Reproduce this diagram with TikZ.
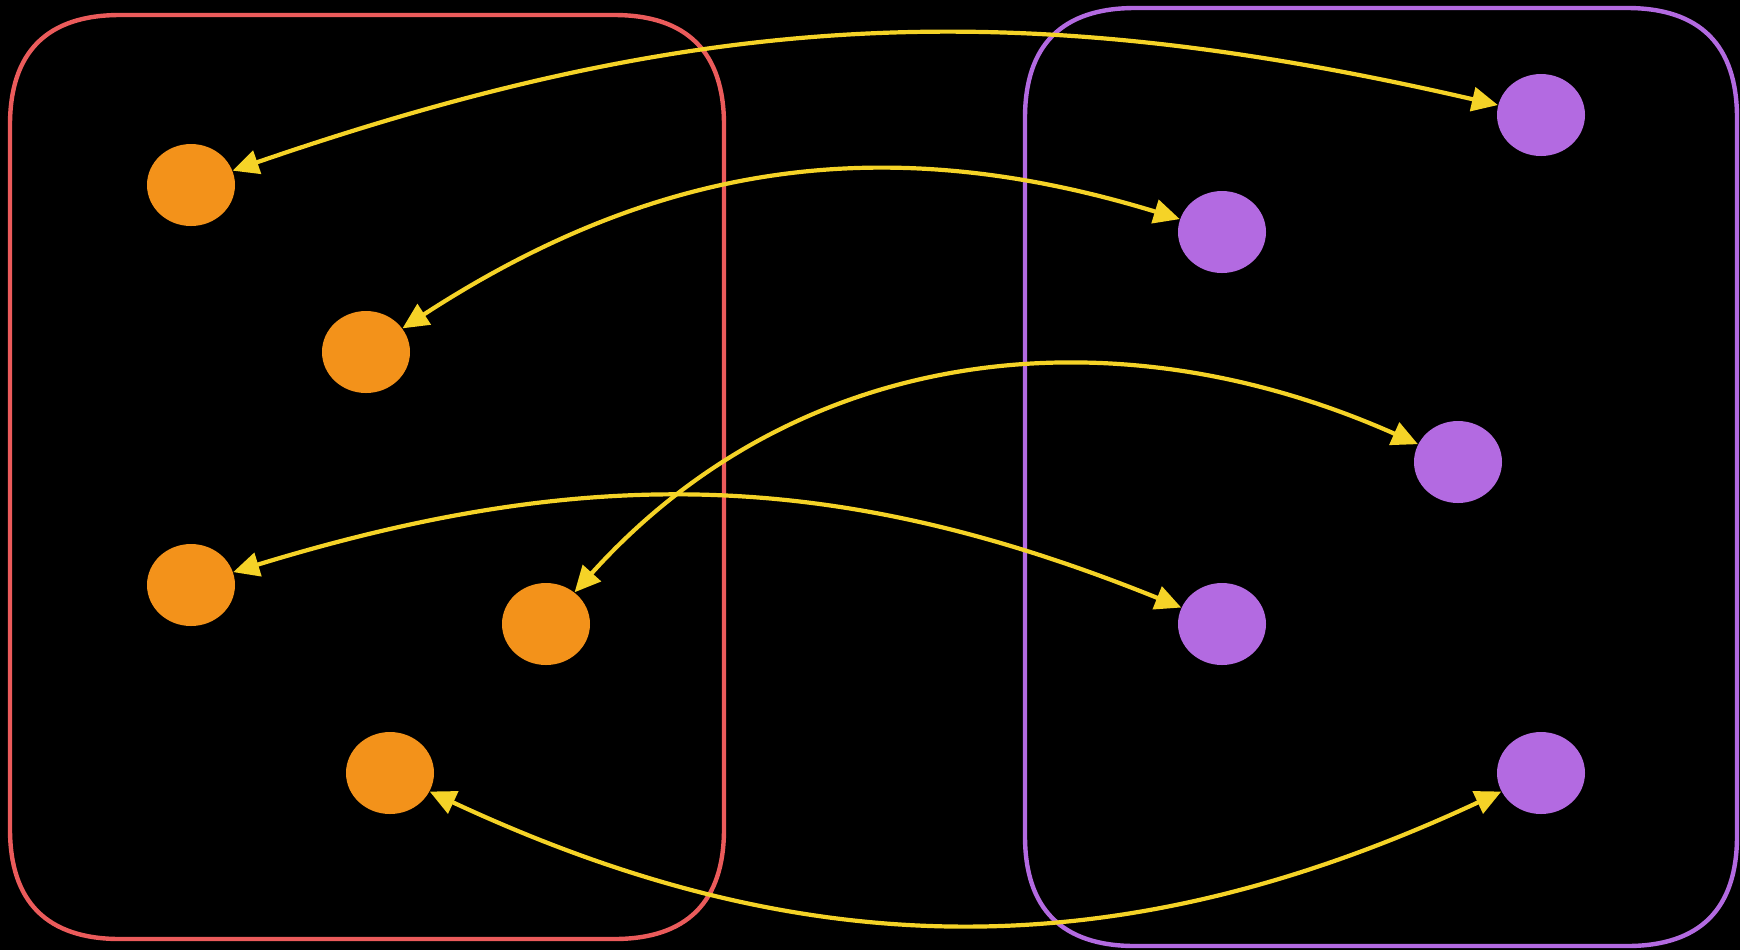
\documentclass[tikz,border=0pt]{standalone}
\usetikzlibrary{arrows.meta,shapes.geometric}
\definecolor{bgc}{HTML}{000000}
\definecolor{redc}{HTML}{EB5B5B}
\definecolor{purc}{HTML}{B36AE1}
\definecolor{orac}{HTML}{F3921A}
\definecolor{yelc}{HTML}{F5D327}
\tikzset{
  grp/.style={line width=2.2pt},
  onode/.style={ellipse, fill=orac, minimum width=44pt, minimum height=41pt, inner sep=0pt},
  pnode/.style={ellipse, fill=purc, minimum width=44pt, minimum height=41pt, inner sep=0pt},
  link/.style={draw=yelc, line width=2.1pt, {Triangle[length=13pt,width=12pt,fill=yelc]}-{Triangle[length=13pt,width=12pt,fill=yelc]}}
}
\begin{document}
\begin{tikzpicture}[x=0.5pt,y=0.5pt]
\fill[bgc] (0,0) rectangle (1740,-950);
\useasboundingbox (0,0) rectangle (1740,-950);
% red group (squircle-like corners)
\draw[grp, draw=redc] (10,-125) -- (10,-829) .. controls (10,-902) and (47,-939) .. (120,-939)
  -- (614,-939) .. controls (687,-939) and (724,-902) .. (724,-829)
  -- (724,-125) .. controls (724,-52) and (687,-15) .. (614,-15)
  -- (120,-15) .. controls (47,-15) and (10,-52) .. (10,-125) -- cycle;
% purple group
\draw[grp, draw=purc] (1025,-118) -- (1025,-836) .. controls (1025,-909) and (1062,-946) .. (1135,-946)
  -- (1627,-946) .. controls (1700,-946) and (1737,-909) .. (1737,-836)
  -- (1737,-118) .. controls (1737,-45) and (1700,-8) .. (1627,-8)
  -- (1135,-8) .. controls (1062,-8) and (1025,-45) .. (1025,-118) -- cycle;
\node[onode] (o1) at (191,-185) {};
\node[onode] (o2) at (366,-352) {};
\node[onode] (o3) at (191,-585) {};
\node[onode] (o4) at (546,-624) {};
\node[onode] (o5) at (390,-773) {};
\node[pnode] (p1) at (1541,-115) {};
\node[pnode] (p2) at (1222,-232) {};
\node[pnode] (p3) at (1458,-462) {};
\node[pnode] (p4) at (1222,-624) {};
\node[pnode] (p5) at (1541,-773) {};
\draw[link] (o1) to[out=19, in=167] (p1);
\draw[link] (o2) to[out=33, in=163] (p2);
\draw[link] (o4) to[out=48, in=156] (p3);
\draw[link] (o3) to[out=17, in=158] (p4);
\draw[link] (o5) to[out=-25, in=-155] (p5);
\end{tikzpicture}
\end{document}
